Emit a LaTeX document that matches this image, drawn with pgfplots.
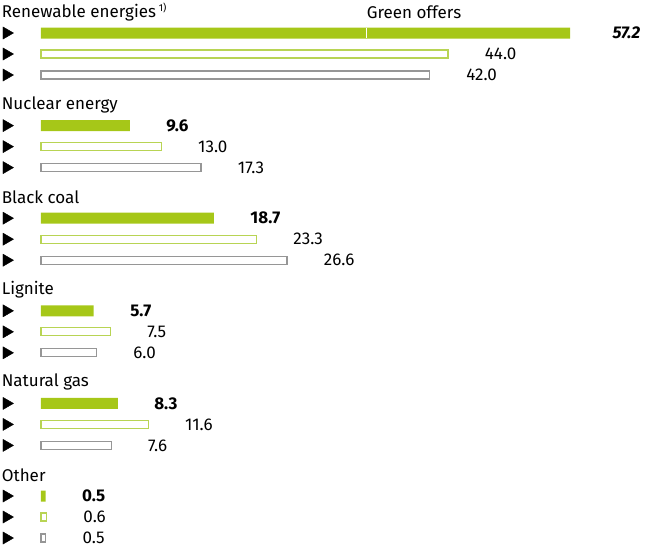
\documentclass[border=0pt]{standalone}
\usepackage{fontspec}
\setmainfont{Fira Sans}
\usepackage{pgfplots}
\pgfplotsset{compat=1.18}
\definecolor{grn}{RGB}{166,199,24}
\definecolor{grnline}{RGB}{184,212,84}
\definecolor{gry}{RGB}{150,150,150}

\begin{document}
\begin{tikzpicture}
\begin{axis}[
  scale only axis, width=646pt, height=550pt,
  xmin=-4.432, xmax=65.41, ymin=0, ymax=550, y dir=reverse,
  hide axis, clip=false,
  valstyle/.style={xbar, bar shift=0pt,
    nodes near coords={\pgfplotspointmeta},
    point meta=explicit symbolic,
    every node near coord/.append style={anchor=west, xshift=33pt,
      font=\fontsize{17}{19}\selectfont, text=black}},
]
% share this year (filled)
\addplot[valstyle, fill=grn, draw=none, bar width=11pt] coordinates {
  (57.2,33) [\hspace{6pt}\textbf{\textit{57.2}}]
  (9.6,125.6) [\textbf{9.6}]
  (18.7,218.2) [\textbf{18.7}]
  (5.7,310.8) [\textbf{5.7}]
  (8.3,403.4) [\textbf{8.3}]
  (0.5,496) [\textbf{0.5}]
};
% comparison 1 (green outline)
\addplot[valstyle, fill=white, draw=grnline, line width=1.2pt, bar width=8pt] coordinates {
  (44.0,54) [44.0]
  (13.0,146.6) [13.0]
  (23.3,239.2) [23.3]
  (7.5,331.8) [7.5]
  (11.6,424.4) [11.6]
  (0.6,517) [0.6]
};
% comparison 2 (grey outline)
\addplot[valstyle, fill=white, draw=gry, line width=1.2pt, bar width=8pt] coordinates {
  (42.0,75) [42.0]
  (17.3,167.6) [17.3]
  (26.6,260.2) [26.6]
  (6.0,352.8) [6.0]
  (7.6,445.4) [7.6]
  (0.5,538) [0.5]
};
% green offers divider
\addplot[white, line width=1pt] coordinates {(35.2,28) (35.2,38)};
% row bullets
\addplot[only marks, mark=triangle*, mark size=7pt,
  mark options={rotate=-90, fill=black, draw=black}] coordinates {
  (-3.73,33) (-3.73,54) (-3.73,75)
  (-3.73,125.6) (-3.73,146.6) (-3.73,167.6)
  (-3.73,218.2) (-3.73,239.2) (-3.73,260.2)
  (-3.73,310.8) (-3.73,331.8) (-3.73,352.8)
  (-3.73,403.4) (-3.73,424.4) (-3.73,445.4)
  (-3.73,496) (-3.73,517) (-3.73,538)
};
\begin{scope}[every node/.style={anchor=west, inner sep=0pt, font=\fontsize{17}{19}\selectfont}]
\node at (axis cs:-4.25,12) {Renewable energies\,\raisebox{0.6ex}{\fontsize{10}{12}\selectfont 1)}};
\node at (axis cs:35.2,12) {Green offers};
\node at (axis cs:-4.25,104.6) {Nuclear energy};
\node at (axis cs:-4.25,197.2) {Black coal};
\node at (axis cs:-4.25,289.8) {Lignite};
\node at (axis cs:-4.25,382.4) {Natural gas};
\node at (axis cs:-4.25,475) {Other};
\end{scope}
\end{axis}
\pgfresetboundingbox
\useasboundingbox (current axis.south west) rectangle (current axis.north east);
\end{tikzpicture}
\end{document}
